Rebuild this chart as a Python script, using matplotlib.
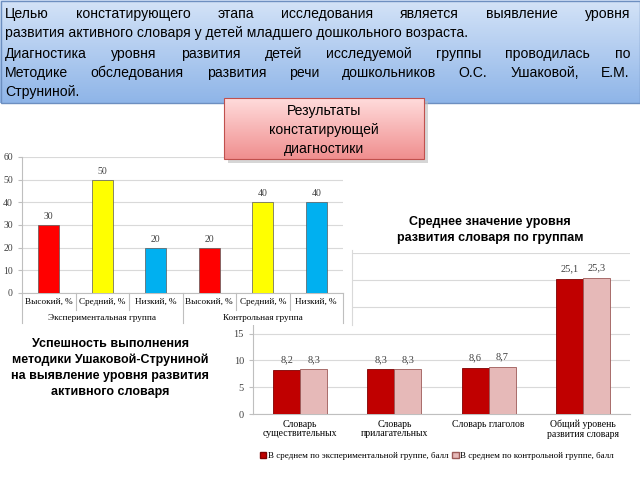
import matplotlib
matplotlib.use("Agg")
import matplotlib.pyplot as plt
from matplotlib.patches import Patch, Rectangle
import numpy as np

plt.rcParams.update({"font.family": "Liberation Serif", "font.size": 7})

# chart 1: levels by group, %
levels = ["Высокий, %", "Средний, %", "Низкий, %"] * 2
groups = ["Экспериментальная группа", "Контрольная группа"]
level_values = [30, 50, 20, 20, 40, 40]
level_colors = ["#ff0000", "#ffff00", "#00b0f0"] * 2

# chart 2: average score by vocabulary type
vocab = ["Словарь\nсуществительных", "Словарь\nприлагательных",
         "Словарь глаголов", "Общий уровень\nразвития словаря"]
exp_scores = [8.2, 8.3, 8.6, 25.1]
ctrl_scores = [8.3, 8.3, 8.7, 25.3]
series_names = ["В среднем по экспериментальной группе, балл",
                "В среднем по контрольной группе, балл"]

intro_lines = [
    ("Целью констатирующего этапа исследования является выявление уровня", True),
    ("развития активного словаря у детей младшего дошкольного возраста.", False),
    ("Диагностика уровня развития детей исследуемой группы проводилась по", True),
    ("Методике обследования развития речи дошкольников О.С. Ушаковой, Е.М.", True),
    ("Струниной.", False),
]
box_title = ["Результаты", "констатирующей", "диагностики"]
caption1 = ["Успешность выполнения", "методики Ушаковой-Струниной",
            "на выявление уровня развития", "активного словаря"]
caption2 = ["Среднее значение уровня", "развития словаря по группам"]

W, H = 640, 480
fig = plt.figure(figsize=(6.4, 4.8), dpi=100)


def px_axes(x0, y0, x1, y1, **kw):
    # pixel box (top-left origin) -> figure axes
    return fig.add_axes([x0 / W, 1 - y1 / H, (x1 - x0) / W, (y1 - y0) / H], **kw)


GRID = "#d9d9d9"
SPINE = "#bfbfbf"

# ---- chart 2 (behind) ----
ax2 = px_axes(253, 253, 630, 414, zorder=1)
x = np.arange(len(vocab))
bw = 0.287
b1 = ax2.bar(x - bw / 2, exp_scores, bw, color="#c00000", edgecolor="#7f0000", lw=0.6, zorder=3)
b2 = ax2.bar(x + bw / 2, ctrl_scores, bw, color="#e6b9b8", edgecolor="#9c5a58", lw=0.6, zorder=3)
for bars in (b1, b2):
    for b in bars:
        ax2.annotate(f"{b.get_height():.1f}".replace(".", ","),
                     (b.get_x() + b.get_width() / 2, b.get_height()),
                     xytext=(0, 4), textcoords="offset points",
                     ha="center", va="bottom", color="#404040", fontsize=7.5)
ax2.set_xlim(-0.5, 3.5)
ax2.set_ylim(0, 30)
yt = list(range(0, 31, 5))
ax2.set_yticks(yt)
# upper labels sit behind chart 1 in the original slide
ax2.set_yticklabels([str(v) if v <= 15 else "" for v in yt])
ax2.set_xticks(x)
ax2.set_xticklabels(vocab, linespacing=1.1)
ax2.tick_params(axis="x", length=0, pad=4)
ax2.tick_params(axis="y", length=3, color=SPINE, labelcolor="#404040", labelsize=7.5)
ax2.grid(axis="y", color=GRID, lw=0.8, zorder=0)
for s in ("top", "right"):
    ax2.spines[s].set_visible(False)
ax2.spines["left"].set_color(SPINE)
ax2.spines["bottom"].set_color(SPINE)
handles = [Patch(facecolor="#c00000", edgecolor="#7f0000", label=series_names[0]),
           Patch(facecolor="#e6b9b8", edgecolor="#9c5a58", label=series_names[1])]
ax2.legend(handles=handles, loc="center", bbox_to_anchor=(437 / W, 1 - 456 / H),
           bbox_transform=fig.transFigure, ncol=2, frameon=False, fontsize=6.5,
           handlelength=0.7, handleheight=0.7, handletextpad=0.2, columnspacing=0.4)

# ---- white frame of chart 1 ----
mid = fig.add_axes([0, 0, 1, 1], zorder=2)
mid.set_xlim(0, W)
mid.set_ylim(H, 0)
mid.axis("off")
mid.add_patch(Rectangle((0, 145), 352, 180, facecolor="white", edgecolor="none"))
mid.plot([352, 352], [250, 325], color=GRID, lw=0.8)

# ---- chart 1 ----
ax1 = px_axes(22, 157, 343, 293, zorder=3)
ax1.patch.set_alpha(0)
pos = np.arange(len(levels))
bars = ax1.bar(pos, level_values, 0.4, color=level_colors, edgecolor="#595959", lw=0.5, zorder=3)
for b in bars:
    ax1.annotate(f"{int(b.get_height())}", (b.get_x() + b.get_width() / 2, b.get_height()),
                 xytext=(0, 3), textcoords="offset points", ha="center", va="bottom",
                 color="#404040")
ax1.set_xlim(-0.5, 5.5)
ax1.set_ylim(0, 60)
ax1.set_yticks(range(0, 61, 10))
ax1.set_xticks(pos)
ax1.set_xticklabels(levels, fontsize=6.6)
ax1.tick_params(axis="x", length=0, pad=3.5)
ax1.tick_params(axis="y", length=3, color=SPINE, labelcolor="#404040")
ax1.grid(axis="y", color=GRID, lw=0.8, zorder=0)
for s in ("top", "right"):
    ax1.spines[s].set_visible(False)
ax1.spines["left"].set_color(SPINE)
ax1.spines["bottom"].set_color(SPINE)
tr = ax1.get_xaxis_transform()
for xb in np.arange(-0.5, 6, 1):
    long_line = xb in (-0.5, 2.5, 5.5)
    ax1.plot([xb, xb], [0, -0.22 if long_line else -0.125], transform=tr,
             color=SPINE, lw=0.8, clip_on=False)
for gi, g in enumerate(groups):
    ax1.text(1 + 3 * gi, -0.184, g, transform=tr, ha="center", va="center", fontsize=6.6)

# ---- overlay: text boxes ----
ov = fig.add_axes([0, 0, 1, 1], zorder=5)
ov.set_xlim(0, W)
ov.set_ylim(H, 0)
ov.axis("off")

grad = np.linspace(0, 1, 64)[:, None]
blue = np.array([0.83, 0.89, 0.97]) * (1 - grad[..., None]) + np.array([0.56, 0.71, 0.91]) * grad[..., None]
ov.imshow(np.repeat(blue, 2, axis=1), extent=(0, W, 103, 0), aspect="auto", zorder=1)
ov.add_patch(Rectangle((0.5, 0.5), W - 1, 102.5, facecolor="none", edgecolor="#6d8fc0", lw=1, zorder=2))

SANS = "Liberation Sans"
fs = 10.1
r = fig.canvas.get_renderer()
ys = [14, 33, 54, 73, 92]
for (line, just), y in zip(intro_lines, ys):
    if not just:
        ov.text(5, y, line, family=SANS, fontsize=fs, va="center", ha="left", zorder=3)
        continue
    # justified line: spread words between the margins
    words = line.split()
    objs = [ov.text(0, y, w, family=SANS, fontsize=fs, va="center", ha="left", zorder=3)
            for w in words]
    widths = [t.get_window_extent(r).width for t in objs]
    gap = (630 - 5 - sum(widths)) / (len(words) - 1)
    xc = 5
    for t, w in zip(objs, widths):
        t.set_x(xc)
        xc += w + gap

# pink box with shadow
ov.add_patch(Rectangle((228, 101), 200, 62, facecolor="#bbbbbb", edgecolor="none", alpha=0.6, zorder=3))
pink = np.array([1.0, 0.86, 0.86]) * (1 - grad[..., None]) + np.array([0.94, 0.56, 0.56]) * grad[..., None]
ov.imshow(np.repeat(pink, 2, axis=1), extent=(224, 424, 159, 98), aspect="auto", zorder=4)
ov.add_patch(Rectangle((224, 98), 200, 61, facecolor="none", edgecolor="#c0504d", lw=0.8, zorder=5))
for t, y in zip(box_title, [111, 130, 149]):
    ov.text(324, y, t, family=SANS, fontsize=fs, ha="center", va="center", zorder=6)
ov.set_xlim(0, W)
ov.set_ylim(H, 0)

for t, y in zip(caption1, [344, 360, 376, 392]):
    ov.text(110, y, t, family=SANS, fontsize=9, weight="bold", ha="center", va="center")
for t, y in zip(caption2, [222, 238]):
    ov.text(490, y, t, family=SANS, fontsize=9, weight="bold", ha="center", va="center")

fig.savefig("out.png", dpi=100)
